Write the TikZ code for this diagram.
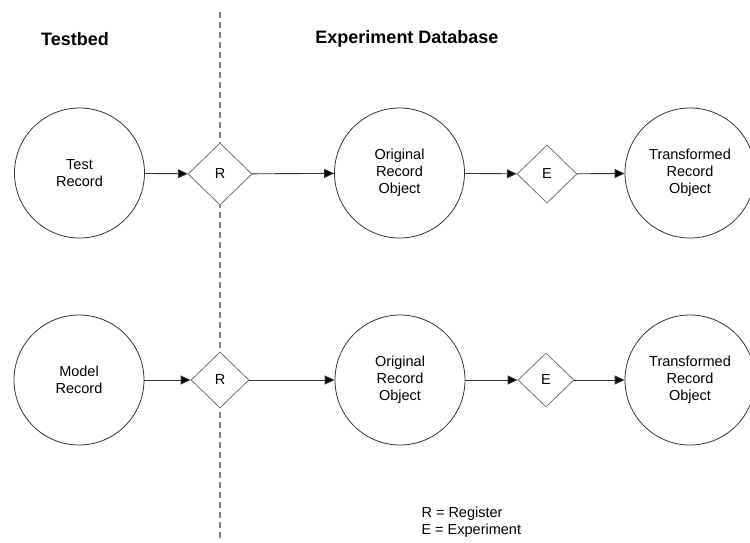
\documentclass[tikz,border=0pt]{standalone}
\usepackage{fontspec}
\setmainfont{Liberation Sans}
\usetikzlibrary{shapes.geometric,arrows.meta}
\begin{document}
\begin{tikzpicture}[x=1pt,y=-1pt,
  circ/.style={circle,draw=black!80,line width=0.8pt,minimum size=130pt,inner sep=0pt,align=center,font=\fontsize{14.5}{17}\selectfont},
  dia/.style={diamond,draw=black!55,line width=0.8pt,inner sep=0pt,font=\fontsize{14.5}{17}\selectfont},
  conn/.style={draw=black!80,line width=0.9pt,-{Triangle[length=10pt,width=9pt,fill=black]}},
  title/.style={font=\fontsize{18}{21}\bfseries\selectfont},
  legend/.style={anchor=west,font=\fontsize{14.5}{17}\selectfont}]
\useasboundingbox (0,0) rectangle (750,542);
\coordinate (dtop) at (220,12);
\coordinate (dbot) at (220,542);
\draw[black!50,line width=1.4pt,dash pattern=on 6pt off 4pt] (dtop) -- (dbot);
\node[title] (tb) at (75,39) {Testbed};
\node[title] (ed) at (407,39) {Experiment Database};
% top row
\node[circ] (tr) at (79.5,173) {Test\\Record};
\node[dia,minimum width=64pt,minimum height=62pt,fill=white] (r1) at (220,174) {R};
\node[circ] (o1) at (399.5,173) {Original\\Record\\Object};
\node[dia,minimum width=60pt,minimum height=58pt] (e1) at (547,174) {E};
\node[circ] (t1) at (690,173) {Transformed\\Record\\Object};
% bottom row
\node[circ] (mr) at (79,380) {Model\\Record};
\node[dia,minimum width=58pt,minimum height=56pt,fill=white] (r2) at (220,380) {R};
\node[circ] (o2) at (400,380) {Original\\Record\\Object};
\node[dia,minimum width=56pt,minimum height=54pt] (e2) at (546,380) {E};
\node[circ] (t2) at (690,380) {Transformed\\Record\\Object};
\draw[conn] (tr) -- (r1);
\draw[conn] (r1) -- (o1);
\draw[conn] (o1) -- (e1);
\draw[conn] (e1) -- (t1);
\draw[conn] (mr) -- (r2);
\draw[conn] (r2) -- (o2);
\draw[conn] (o2) -- (e2);
\draw[conn] (e2) -- (t2);
\node[legend] (l1) at (418,514) {R = Register};
\node[legend] (l2) at (418,531) {E = Experiment};
\end{tikzpicture}
\end{document}
